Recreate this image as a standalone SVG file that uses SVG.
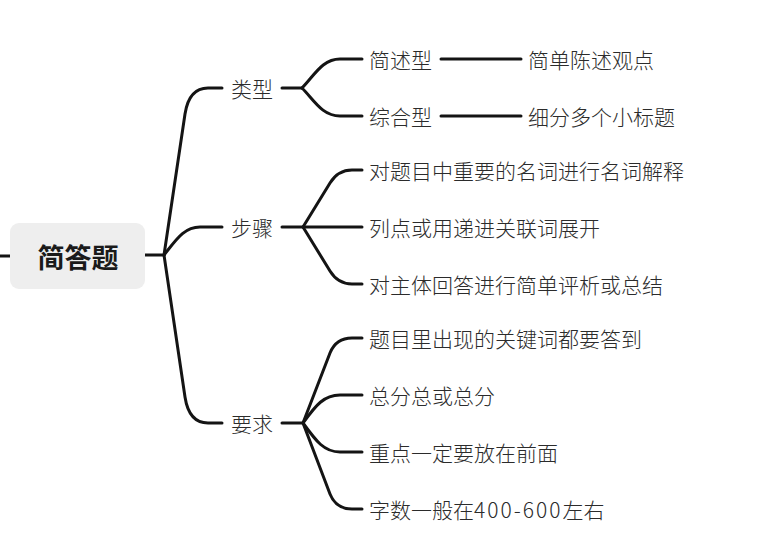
<svg xmlns="http://www.w3.org/2000/svg" width="760" height="547" viewBox="0 0 760 547">
<style>
.c{fill:none;stroke:#141414;stroke-width:3;stroke-linecap:round;stroke-linejoin:round}
.t{font-family:"Noto Sans CJK SC","Microsoft YaHei",sans-serif;font-size:21px;font-weight:300;fill:#2b2b2b;dominant-baseline:central}
.r{font-family:"Noto Sans CJK SC",sans-serif;font-size:27px;font-weight:bold;fill:#1a1a1a;dominant-baseline:central;text-anchor:middle}
</style>
<rect width="760" height="547" fill="#ffffff"/>
<g id="connectors">
<path class="c" d="M0 256 L10 256"/>
<path class="c" d="M145 255 L164 255"/>
<path class="c" d="M164 255 L185 114 Q189 88 208 88 L222 88"/>
<path class="c" d="M164 255 C176 240 184 227 200 227 L222 227"/>
<path class="c" d="M164 255 L185 397 Q189 423 208 423 L222 423"/>
<path class="c" d="M282 88 L302 88"/>
<path class="c" d="M302 88 C314 76 322 59 340 59 L362 59"/>
<path class="c" d="M302 88 C314 100 322 116 340 116 L362 116"/>
<path class="c" d="M441 59 L521 59"/>
<path class="c" d="M441 116 L521 116"/>
<path class="c" d="M282 227 L362 227"/>
<path class="c" d="M303 227 L330 183 Q338 170 352 170 L362 170"/>
<path class="c" d="M303 227 L330 271 Q338 284 352 284 L362 284"/>
<path class="c" d="M282 423 L303 423"/>
<path class="c" d="M303 423 L330 353 Q336 338 352 338 L362 338"/>
<path class="c" d="M303 423 C316 405 324 395 340 395 L362 395"/>
<path class="c" d="M303 423 C316 441 324 452 340 452 L362 452"/>
<path class="c" d="M303 423 L330 494 Q336 509 352 509 L362 509"/>
</g>
<g id="root">
<rect x="10" y="223" width="135" height="66" rx="9" fill="#eeeeee"/>
<text class="r" x="78" y="256">简答题</text>
</g>
<g id="n-leixing"><text class="t" x="231" y="88">类型</text></g>
<g id="n-buzhou"><text class="t" x="231" y="227">步骤</text></g>
<g id="n-yaoqiu"><text class="t" x="231" y="423">要求</text></g>
<g id="n-jianshu"><text class="t" x="369" y="59">简述型</text></g>
<g id="n-zonghe"><text class="t" x="369" y="116">综合型</text></g>
<g id="n-jianshu-d"><text class="t" x="528" y="59">简单陈述观点</text></g>
<g id="n-zonghe-d"><text class="t" x="528" y="116">细分多个小标题</text></g>
<g id="n-b1"><text class="t" x="369" y="170">对题目中重要的名词进行名词解释</text></g>
<g id="n-b2"><text class="t" x="369" y="227">列点或用递进关联词展开</text></g>
<g id="n-b3"><text class="t" x="369" y="284">对主体回答进行简单评析或总结</text></g>
<g id="n-y1"><text class="t" x="369" y="338">题目里出现的关键词都要答到</text></g>
<g id="n-y2"><text class="t" x="369" y="395">总分总或总分</text></g>
<g id="n-y3"><text class="t" x="369" y="452">重点一定要放在前面</text></g>
<g id="n-y4"><text class="t" x="369" y="509">字数一般在<tspan letter-spacing="2">400-600</tspan>左右</text></g>
</svg>
